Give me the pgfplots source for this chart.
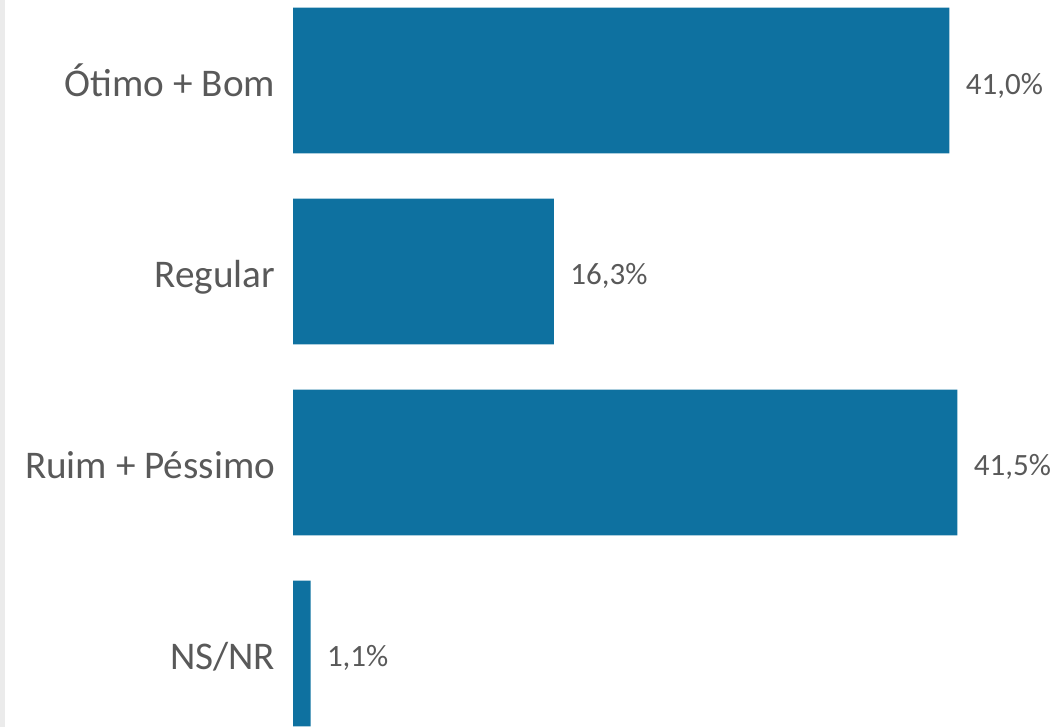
\documentclass[border=0pt]{standalone}
\usepackage{fontspec}
\setmainfont{Carlito}
\usepackage{pgfplots}
\pgfplotsset{compat=1.18}
\definecolor{barblue}{HTML}{0E71A0}
\definecolor{labelgray}{HTML}{595959}

\begin{document}
\begin{tikzpicture}
% picture frame: 1 px of the reference = 0.5pt
\useasboundingbox (0,0) rectangle (529pt,363.5pt);
\fill[black!8] (0,0) rectangle (2.5pt,363.5pt);
\begin{axis}[
  at={(146.5pt,0pt)}, anchor=south west,
  scale only axis,
  width=382.5pt, height=363.5pt,
  xbar, bar width=0.764,
  xmin=0, xmax=47.78,
  ymin=-0.4215, ymax=3.385,
  y dir=reverse,
  axis line style={draw=none},
  tick style={draw=none},
  xtick=\empty,
  ytick={0,1,2,3},
  yticklabels={Ótimo + Bom, Regular, Ruim + Péssimo, NS/NR},
  yticklabel style={font=\fontsize{19.6}{22}\selectfont, text=labelgray,
    inner sep=0pt, anchor=base east, xshift=-4.5pt, yshift=-8pt},
  point meta=x,
  nodes near coords={\pgfmathprintnumber[fixed,fixed zerofill,precision=1,use comma,assume math mode=true]{\pgfplotspointmeta}\%},
  every node near coord/.append style={font=\fontsize{15.5}{18}\selectfont,
    text=labelgray, anchor=base west, inner sep=0pt, xshift=8pt, yshift=-6.75pt},
]
\addplot[fill=barblue, draw=none] coordinates {
  (41.0,0) (16.3,1) (41.5,2) (1.1,3)};
\end{axis}
\end{tikzpicture}
\end{document}
